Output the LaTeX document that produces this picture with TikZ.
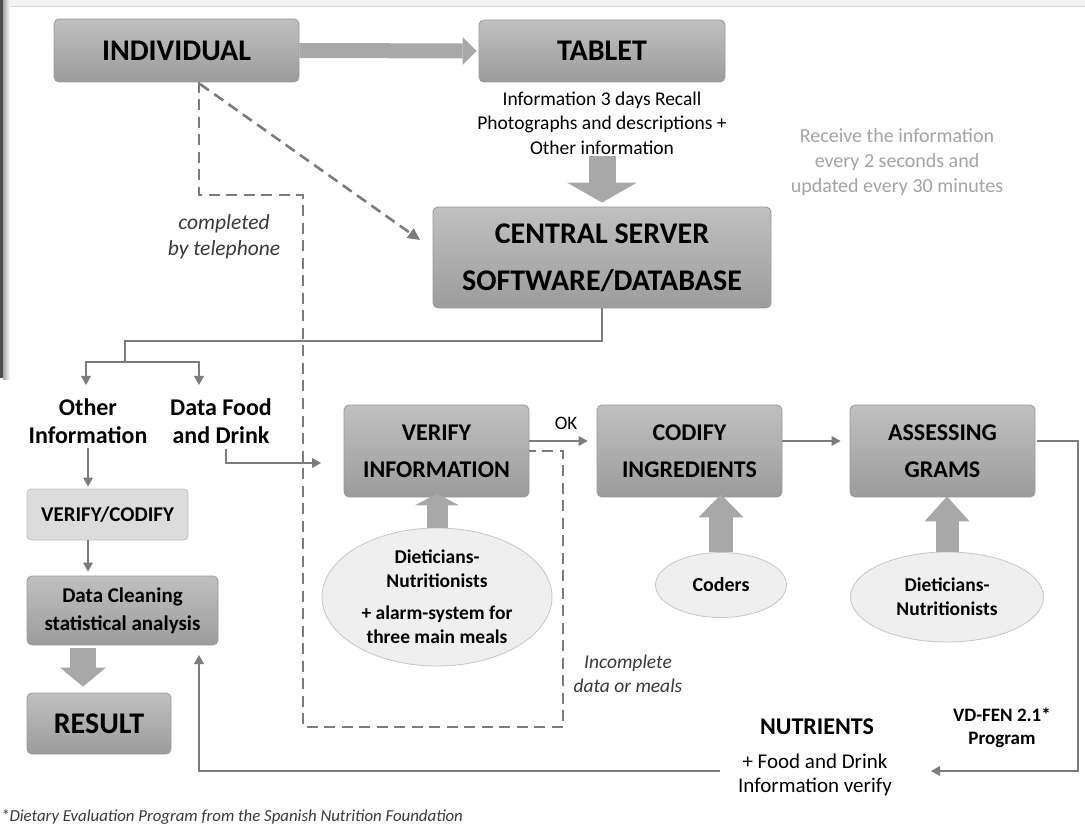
\documentclass[tikz,border=0pt]{standalone}
\usepackage{fontspec}
\setmainfont{Carlito}
\usetikzlibrary{arrows.meta,shapes.geometric}
\definecolor{boxtop}{HTML}{C0C0C0}
\definecolor{boxbot}{HTML}{9C9C9C}
\definecolor{boxline}{HTML}{999999}
\definecolor{conn}{HTML}{7C7C7C}
\definecolor{blockc}{HTML}{A8A8A8}
\definecolor{ellfill}{HTML}{EFEFEF}
\definecolor{ellline}{HTML}{C6C6C6}
\definecolor{lbfill}{HTML}{DCDCDC}
\definecolor{lbline}{HTML}{C2C2C2}
\definecolor{graytext}{HTML}{A4A4A4}
\definecolor{itxt}{HTML}{3A3A3A}
\definecolor{stripc}{HTML}{F3F3F3}
\definecolor{stripl}{HTML}{D8D8D8}
\definecolor{edgec}{HTML}{4D4D4D}
\newcommand{\fsz}[2]{\fontsize{#1}{#2}\selectfont}
\begin{document}
\begin{tikzpicture}[x=1pt,y=-1pt,
  box/.style={rectangle, rounded corners=5pt, draw=boxline, line width=0.8pt,
    top color=boxtop, bottom color=boxbot, text=black, align=center, inner sep=0pt},
  bigbox/.style={box, font=\fsz{30}{47}\bfseries},
  midbox/.style={box, font=\fsz{24}{37}\bfseries},
  lightbox/.style={rectangle, rounded corners=4pt, draw=lbline, line width=0.8pt,
    fill=lbfill, align=center, inner sep=0pt, font=\fsz{21}{28}\bfseries},
  ell/.style={ellipse, draw=ellline, line width=0.8pt, fill=ellfill, align=center,
    inner sep=0pt, font=\fsz{19.5}{24}\bfseries},
  conn/.style={draw=conn, line width=2.4pt},
  arrtip/.style={-{Triangle[length=9pt,width=10pt,line width=0pt]}},
  dashline/.style={draw=conn, line width=2.6pt, dash pattern=on 11pt off 6.5pt},
  blk/.style n args={3}{draw=blockc, line width=#1pt,
    -{Triangle[width=#2pt,length=#3pt,line width=0pt]}},
  plain/.style={align=center, inner sep=0pt, text=black}
]
\useasboundingbox (0,0) rectangle (1085,826);
% screenshot frame
\fill[stripc] (0,0) rectangle (1085,6);
\draw[stripl, line width=1.2pt] (0,6.5) -- (1085,6.5);
\shade[left color=gray!70, right color=white] (3,0) rectangle (10,380);
\fill[edgec] (0,0) rectangle (3,378);

% boxes
\node[bigbox, minimum width=245pt, minimum height=63pt] (indiv) at (176.5,50.5) {INDIVIDUAL};
\node[bigbox, minimum width=246pt, minimum height=62pt] (tablet) at (602,51) {TABLET};
\node[bigbox, minimum width=338pt, minimum height=101pt] (central) at (602,257.5) {CENTRAL SERVER\\SOFTWARE/DATABASE};
\node[midbox, minimum width=185pt, minimum height=92pt] (verify) at (436.5,451) {VERIFY\\INFORMATION};
\node[midbox, minimum width=185pt, minimum height=92pt] (codify) at (689.5,451) {CODIFY\\INGREDIENTS};
\node[midbox, minimum width=185pt, minimum height=92pt] (assess) at (942.5,451) {ASSESSING\\GRAMS};
\node[lightbox, minimum width=161pt, minimum height=51pt] (vercod) at (107.5,514.5) {VERIFY/CODIFY};
\node[box, font=\fsz{21}{28}\bfseries, minimum width=191pt, minimum height=69pt] (clean) at (122.5,610.5) {Data Cleaning\\statistical analysis};
\node[bigbox, minimum width=144pt, minimum height=61pt] (result) at (99,723.5) {RESULT};

% ellipses
\node[ell, minimum width=230pt, minimum height=138pt] (ell1) at (437,597) {Dieticians-\\Nutritionists\\[8pt]+ alarm-system for\\three main meals};
\node[ell, font=\fsz{20}{24}\bfseries, minimum width=131pt, minimum height=65pt] (coders) at (721,585) {Coders};
\node[ell, minimum width=193pt, minimum height=90pt] (ell3) at (947,597) {Dieticians-\\Nutritionists};

% texts
\node[plain, font=\fsz{19.5}{24.5}] (tabtext) at (602,123) {Information 3 days Recall\\Photographs and descriptions +\\Other information};
\node[plain, font=\fsz{20}{25}, text=graytext] (recv) at (897,162) {Receive the information\\every 2 seconds and\\updated every 30 minutes};
\node[plain, font=\fsz{21.5}{26}\itshape, text=itxt] (tel) at (224,237) {completed\\by telephone};
\node[plain, font=\fsz{24}{28}\bfseries] (oi) at (88,421) {Other\\Information};
\node[plain, font=\fsz{24}{28}\bfseries] (df) at (221,421) {Data Food\\and Drink};
\node[plain, font=\fsz{19}{22}] (ok) at (566,423) {OK};
\node[plain, font=\fsz{19.5}{24}\itshape, text=itxt] (inc) at (628,674) {Incomplete\\data or meals};
\node[plain, font=\fsz{24}{28}\bfseries] (nut) at (817,727) {NUTRIENTS};
\node[plain, font=\fsz{21}{24}] (nutinfo) at (815,775) {+ Food and Drink\\Information verify};
\node[plain, font=\fsz{19}{23}\bfseries] (vdfen) at (1002,728) {VD-FEN 2.1*\\Program};
\node[plain, font=\fsz{16.8}{18}\itshape, text=itxt, anchor=west] (foot) at (1,817) {*Dietary Evaluation Program from the Spanish Nutrition Foundation};

% block arrows
\draw[blk={15}{28}{14}] (indiv.east) -- ([xshift=-2pt]tablet.west);
\draw[blk={27}{70}{20}] ([yshift=-1pt]tabtext.south) -- ([yshift=4pt]central.north);
\draw[blk={21}{44}{12}] (ell1.north) -- ([yshift=4pt]ell1.north |- verify.south);
\draw[blk={24}{45}{23}] (coders.north) -- ([yshift=3pt]coders.north |- codify.south);
\draw[blk={23}{45}{25}] (ell3.north) -- ([yshift=1pt]ell3.north |- assess.south);
\draw[blk={26}{46}{19}] ([xshift=-39.5pt,yshift=-3pt]clean.south) -- ([xshift=-16pt,yshift=6pt]result.north);

% connectors
\coordinate (br) at (125,341);
\coordinate (sp) at (125,362);
\coordinate (oiin) at (86,385);
\coordinate (dfin) at (199,385);
\draw[conn] (central.south) |- (br) -- (sp);
\draw[conn, arrtip] (sp) -| (oiin);
\draw[conn, arrtip] (sp) -| (dfin);
\draw[conn, arrtip] ([yshift=-4pt]oi.south) -- ([yshift=2pt]oi.south |- vercod.north);
\draw[conn, arrtip] (oi.south |- vercod.south) -- ([yshift=4pt]oi.south |- clean.north);
\coordinate (vin) at (321,463);
\draw[conn, arrtip] ([xshift=5pt,yshift=-5pt]df.south) |- (vin);
\draw[conn, arrtip] ([yshift=10pt]verify.east) -- ([xshift=-9pt,yshift=10pt]codify.west);
\draw[conn, arrtip] ([yshift=10pt]codify.east) -- ([xshift=-9pt,yshift=10pt]assess.west);
\coordinate (rc) at (1078,441);
\coordinate (nin) at (931,771);
\draw[conn, arrtip] ([xshift=2pt,yshift=10pt]assess.east) -- (rc) |- (nin);
\coordinate (nout) at (720,771);
\coordinate (cin) at (199,655);
\draw[conn, arrtip] (nout) -| (cin);

% dashed
\coordinate (d0) at (199,82);
\coordinate (d1) at (199,195);
\coordinate (d2) at (303,195);
\coordinate (d3) at (303,727);
\coordinate (d4) at (563,727);
\coordinate (d5) at (563,451);
\draw[dashline] (d0) -- (d1) -- (d2) -- (d3) -- (d4) -- (d5) -- (verify.east);
\coordinate (g0) at (200,84);
\coordinate (g1) at (420,240);
\draw[dashline, -{Triangle[length=12pt,width=12pt,line width=0pt]}] (g0) -- (g1);
\end{tikzpicture}
\end{document}
